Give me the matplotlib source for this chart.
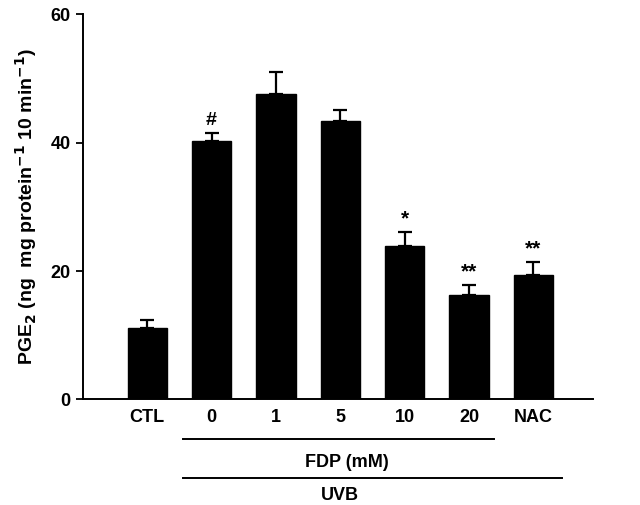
import matplotlib.pyplot as plt
import numpy as np

plt.rcParams['font.family'] = ['Liberation Sans', 'DejaVu Sans']
plt.rcParams['font.weight'] = 'bold'
plt.rcParams['mathtext.default'] = 'bf'

categories = ['CTL', '0', '1', '5', '10', '20', 'NAC']
values = [11.2, 40.3, 47.6, 43.3, 23.9, 16.3, 19.4]
errors = [1.25, 1.25, 3.4, 1.8, 2.1, 1.5, 1.95]
marks = ['', '#', '', '', '*', '**', '**']

fig = plt.figure(figsize=(6.4, 5.05), dpi=100)
ax = fig.add_axes([0.130, 0.209, 0.797, 0.763])

x = np.arange(len(categories))
ax.bar(x, values, width=0.61, color='black', edgecolor='black')
ax.errorbar(x, values, yerr=[np.zeros(len(errors)), errors], fmt='none',
            ecolor='black', elinewidth=1.6, capsize=4.8, capthick=1.6)

for xi, v, e, m in zip(x, values, errors, marks):
    if m:
        ax.text(xi, v + e + 0.6, m, ha='center', va='bottom',
                fontsize=14 if m == '#' else 15, fontweight='bold')

ax.set_xlim(-0.995, 6.93)
ax.set_ylim(0, 60)
ax.set_yticks([0, 20, 40, 60])
ax.set_xticks(x)
ax.set_xticklabels(categories, fontsize=13, fontweight='bold')
ax.tick_params(axis='x', length=0, pad=7)
ax.tick_params(axis='y', direction='out', length=5, width=1.3, labelsize=13, pad=4)
for lab in ax.get_yticklabels():
    lab.set_fontweight('bold')
ax.spines['top'].set_visible(False)
ax.spines['right'].set_visible(False)
ax.spines['left'].set_linewidth(1.4)
ax.spines['bottom'].set_linewidth(1.4)

ax.set_ylabel('PGE$_2$ (ng  mg protein$^{-1}$ 10 min$^{-1}$)',
              fontsize=14, fontweight='bold', labelpad=8)

tr = ax.get_xaxis_transform()
ax.plot([0.56, 5.38], [-0.103, -0.103], transform=tr, color='black', lw=1.4, clip_on=False)
ax.text(3.1, -0.163, 'FDP (mM)', transform=tr, ha='center', va='center',
        fontsize=13, fontweight='bold')
ax.plot([0.56, 6.44], [-0.204, -0.204], transform=tr, color='black', lw=1.4, clip_on=False)
ax.text(2.99, -0.248, 'UVB', transform=tr, ha='center', va='center',
        fontsize=13, fontweight='bold')

fig.savefig('out.png', dpi=100)
plt.close(fig)
